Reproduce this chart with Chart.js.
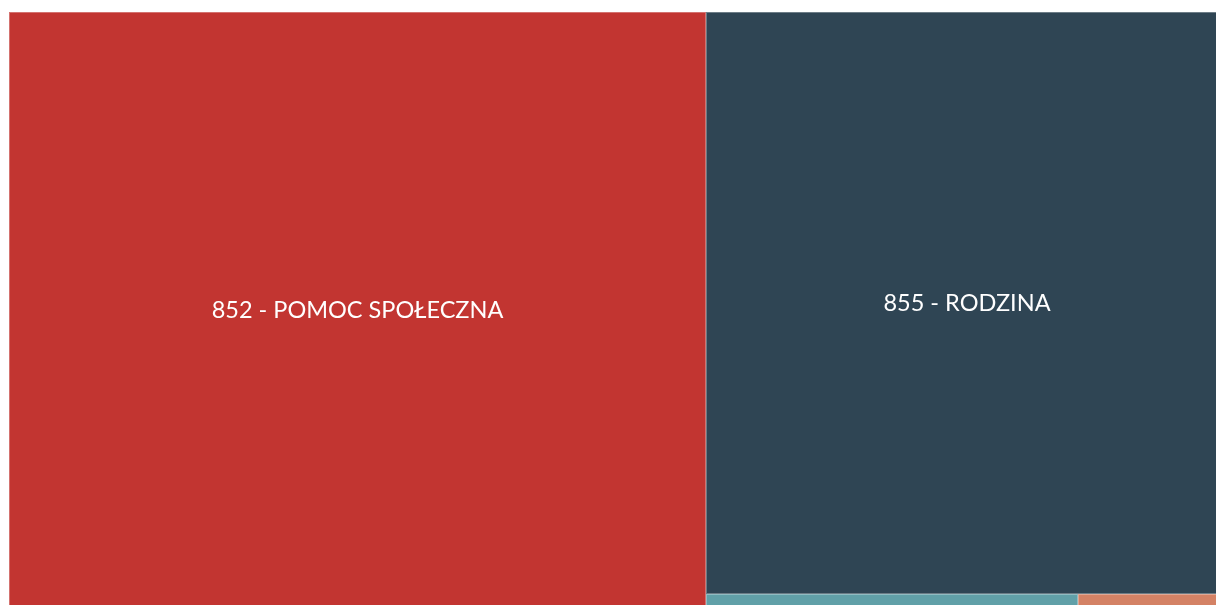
<!DOCTYPE html>
<html><head><meta charset="utf-8">
<script src="https://cdn.jsdelivr.net/npm/chart.js@4.4.0/dist/chart.umd.min.js"></script>
<style>
html,body{margin:0;padding:0;background:#fff;overflow:hidden;width:1216px;height:605px}
#wrap{position:absolute;left:0;top:0;width:1228px;height:608px}
</style></head>
<body><div id="wrap"><canvas id="c"></canvas></div>
<script>
const categories = ['852 - POMOC SPOŁECZNA', '855 - RODZINA', '853 - POZOSTAŁE ZADANIA W ZAKRESIE POLITYKI SPOŁECZNEJ', '854 - EDUKACYJNA OPIEKA WYCHOWAWCZA'];
const values = [5719, 4180, 72, 29];
const palette = ['#c23531', '#2f4554', '#61a0a8', '#d48265'];

function squarify(vals, x, y, w, h) {
  const total = vals.reduce((a, b) => a + b, 0);
  const items = vals.map((v, i) => ({ i, a: v / total * w * h })).sort((a, b) => b.a - a.a);
  const out = [];
  let rect = { x, y, w, h };
  let row = [];
  const worst = (r, side) => {
    const s = r.reduce((a, b) => a + b.a, 0);
    let mx = -Infinity, mn = Infinity;
    r.forEach(q => { mx = Math.max(mx, q.a); mn = Math.min(mn, q.a); });
    return Math.max(side * side * mx / (s * s), s * s / (side * side * mn));
  };
  function layoutRow(r) {
    const s = r.reduce((a, b) => a + b.a, 0);
    if (rect.w >= rect.h) {
      const cw = s / rect.h; let cy = rect.y;
      r.forEach(q => { const rh = q.a / cw; out[q.i] = { x: rect.x, y: cy, w: cw, h: rh }; cy += rh; });
      rect = { x: rect.x + cw, y: rect.y, w: rect.w - cw, h: rect.h };
    } else {
      const rh = s / rect.w; let cx = rect.x;
      r.forEach(q => { const rw = q.a / rh; out[q.i] = { x: cx, y: rect.y, w: rw, h: rh }; cx += rw; });
      rect = { x: rect.x, y: rect.y + rh, w: rect.w, h: rect.h - rh };
    }
  }
  let k = 0;
  while (k < items.length) {
    const side = Math.min(rect.w, rect.h);
    const it = items[k];
    if (row.length === 0 || worst(row.concat([it]), side) <= worst(row, side)) { row.push(it); k++; }
    else { layoutRow(row); row = []; }
  }
  if (row.length) layoutRow(row);
  return out;
}

const treemapPlugin = {
  id: 'treemap',
  beforeDatasetsDraw(chart) {
    const ctx = chart.ctx, ca = chart.chartArea;
    const xs = chart.scales.x, ys = chart.scales.y;
    const aspect = ca.width / ca.height;
    const rects = squarify(values, 0, 0, aspect, 1);
    ctx.save();
    rects.forEach((r, i) => {
      const x0 = xs.getPixelForValue(r.x / aspect), x1 = xs.getPixelForValue((r.x + r.w) / aspect);
      const y0 = ys.getPixelForValue(r.y), y1 = ys.getPixelForValue(r.y + r.h);
      const L = Math.round(x0), R = Math.round(x1), T = Math.round(y0), B = Math.round(y1);
      ctx.fillStyle = palette[i % palette.length];
      ctx.fillRect(L, T, R - L, B - T);
      ctx.strokeStyle = 'rgba(255,255,255,0.3)';
      ctx.lineWidth = 1;
      ctx.strokeRect(L + 0.5, T + 0.5, R - L - 1, B - T - 1);
      ctx.font = '23.5px Lato, "Open Sans", sans-serif';
      const tw = ctx.measureText(categories[i]).width;
      if (tw < (R - L) - 10 && (B - T) > 30) {
        ctx.fillStyle = '#ffffff';
        ctx.textAlign = 'center';
        ctx.textBaseline = 'middle';
        ctx.fillText(categories[i], (L + R) / 2, (T + B) / 2);
      }
    });
    ctx.restore();
  }
};

new Chart(document.getElementById('c'), {
  type: 'scatter',
  data: { datasets: [{ data: [] }] },
  options: {
    responsive: true,
    maintainAspectRatio: false,
    animation: false,
    layout: { padding: { left: 9, top: 12, right: 0, bottom: 0 } },
    plugins: { legend: { display: false }, tooltip: { enabled: false } },
    scales: {
      x: { type: 'linear', min: 0, max: 1, display: false },
      y: { type: 'linear', min: 0, max: 1, reverse: true, display: false }
    }
  },
  plugins: [treemapPlugin]
});
</script>
</body></html>
